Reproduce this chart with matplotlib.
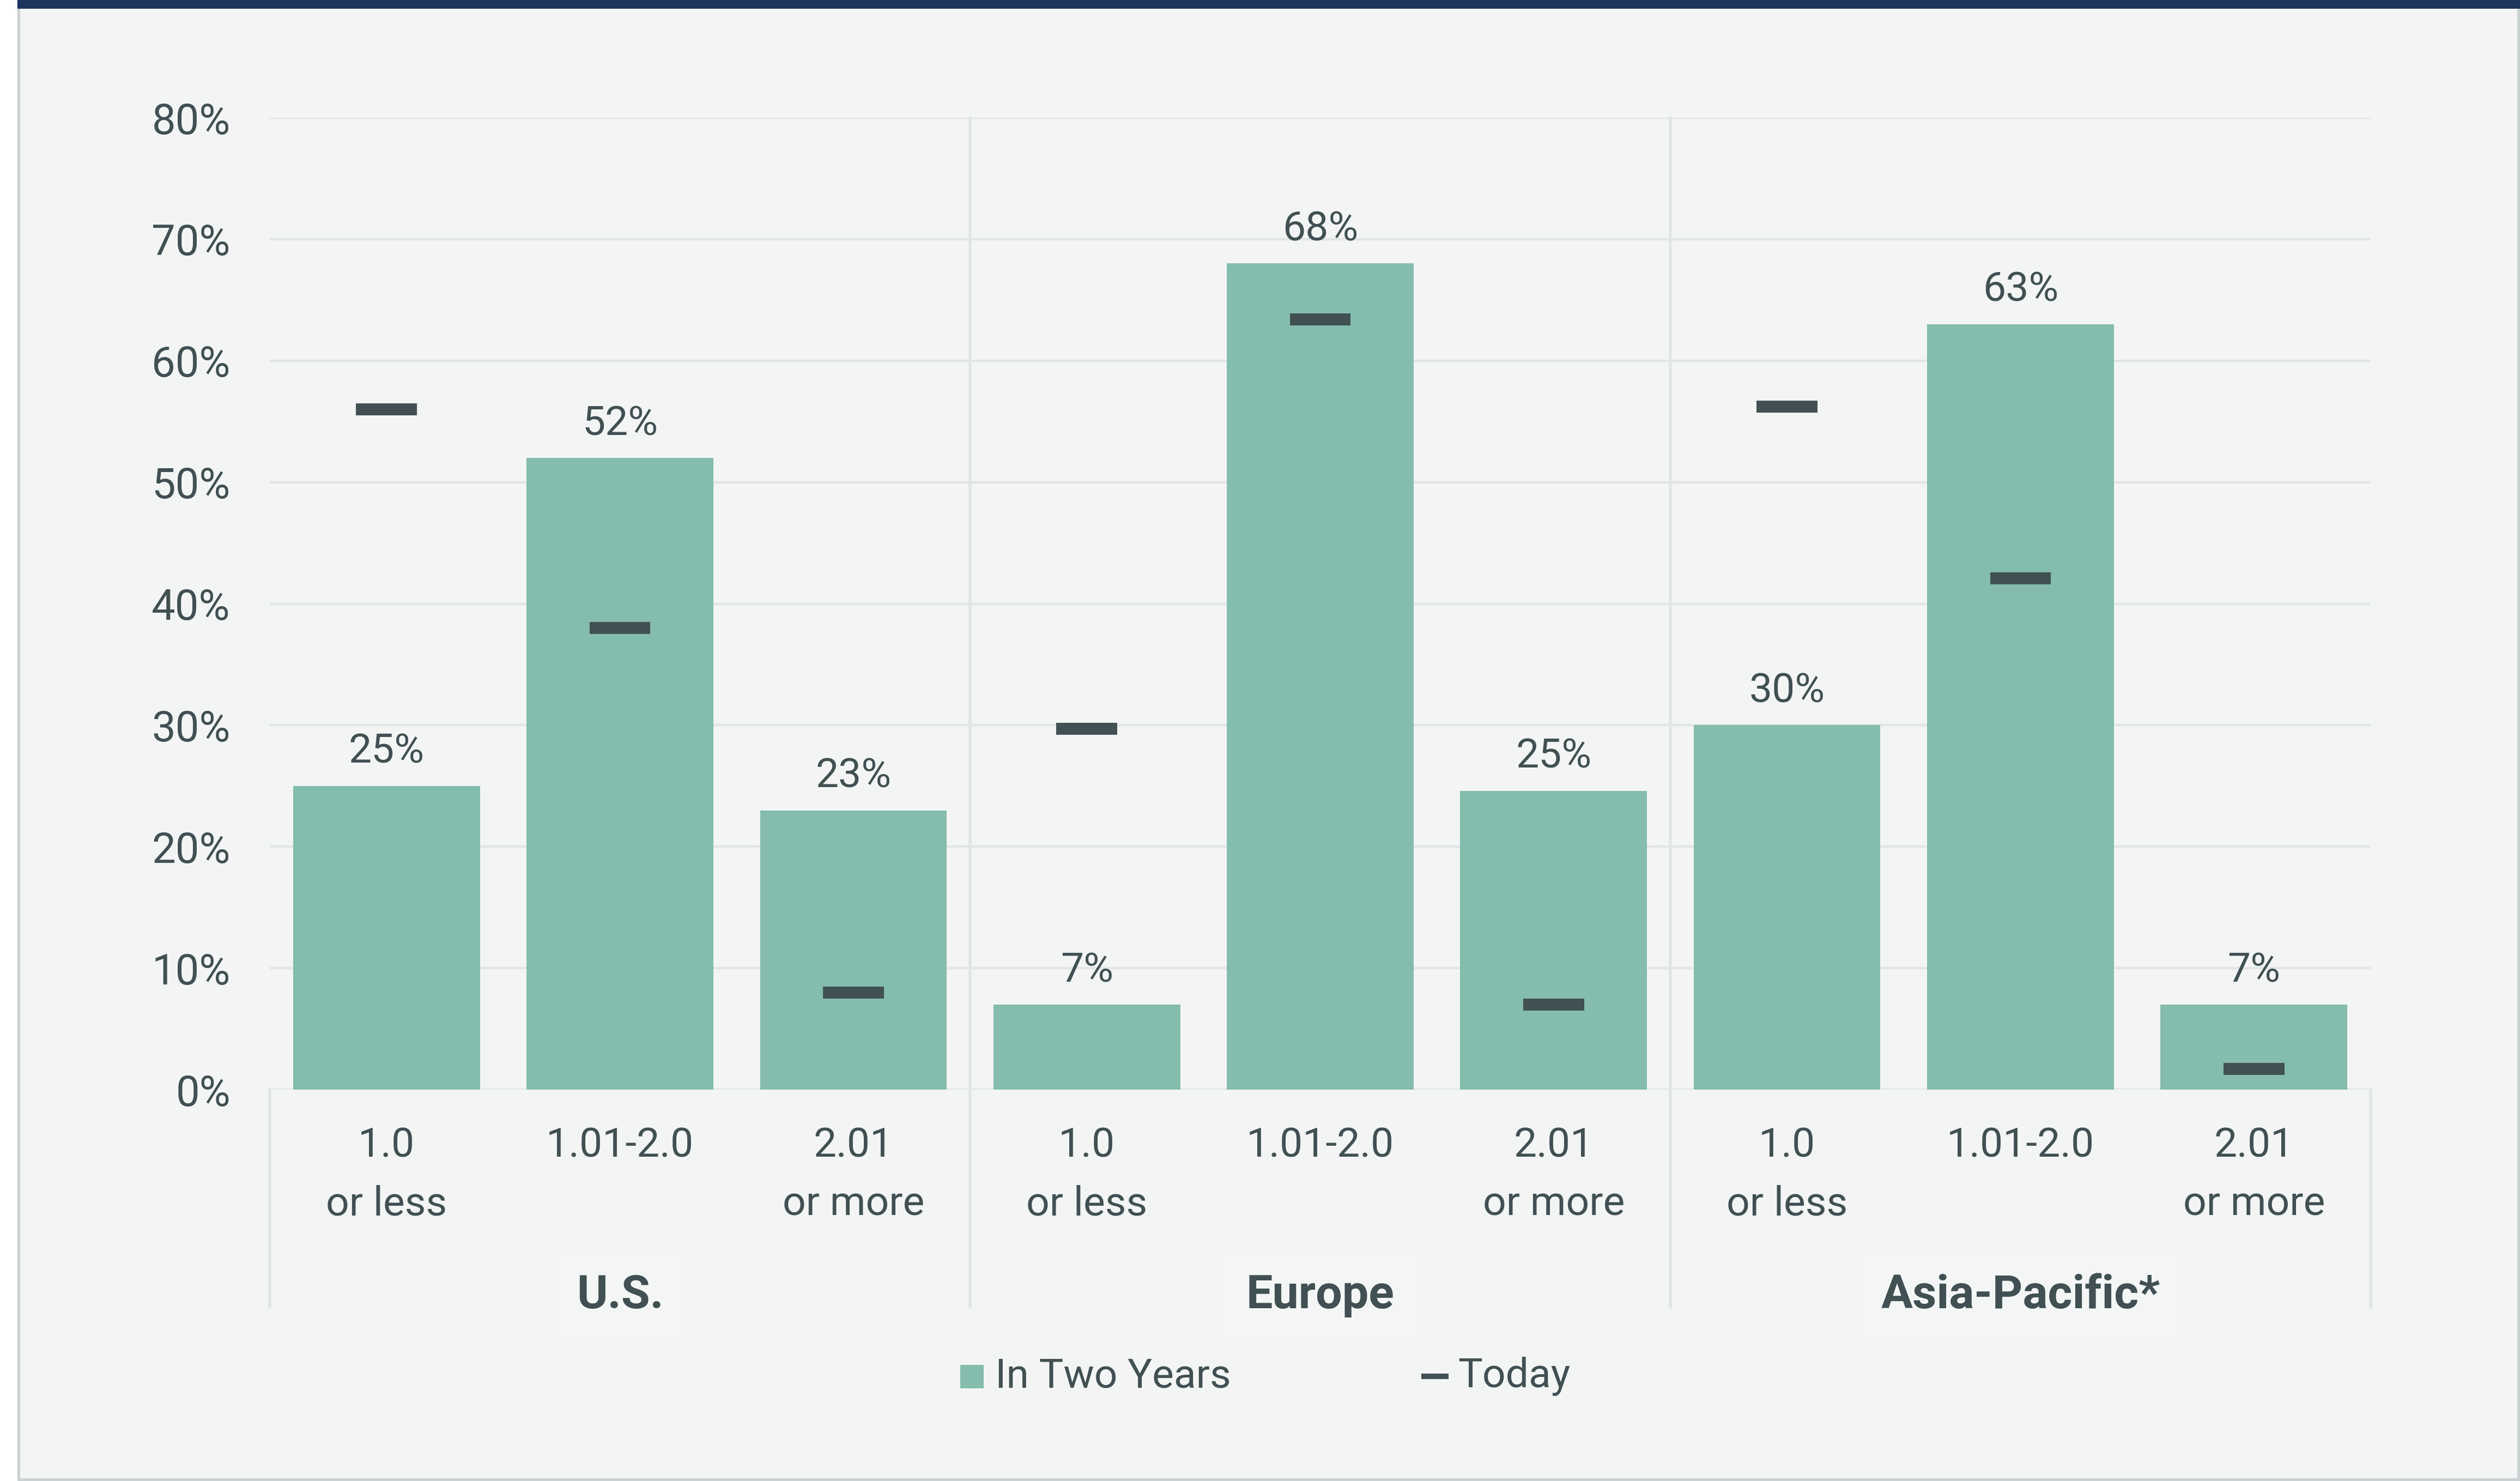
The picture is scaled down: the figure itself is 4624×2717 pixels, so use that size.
import matplotlib.pyplot as plt
from matplotlib.patches import Rectangle
from matplotlib.lines import Line2D
import matplotlib.transforms as mtransforms

# data
regions = ['U.S.', 'Europe', 'Asia-Pacific*']
buckets = ['1.0\nor less', '1.01-2.0', '2.01\nor more']
in_two_years = [25, 52, 23, 7, 68, 24.6, 30, 63, 7]
today = [56, 38, 8, 29.7, 63.4, 7, 56.2, 42.1, 1.7]
y_ticks = [0, 10, 20, 30, 40, 50, 60, 70, 80]

BG = '#f3f5f4'
BAR = '#84bcad'
DARK = '#415052'
GRID = '#e2e5e5'
NAVY = '#1f355e'
BORDER = '#c9d1d3'

plt.rcParams['font.family'] = ['Roboto', 'DejaVu Sans']

W, H = 4624, 2717
DPI = 200
fig = plt.figure(figsize=(W / DPI, H / DPI), dpi=DPI, facecolor='white')

# panel background, border and top rule
fig.patches.append(Rectangle((32 / W, 0), 1 - 32 / W, 1, transform=fig.transFigure,
                             facecolor=BORDER, edgecolor='none', zorder=-3))
fig.patches.append(Rectangle((37 / W, 5 / H), 1 - 42 / W, 1 - 5 / H, transform=fig.transFigure,
                             facecolor=BG, edgecolor='none', zorder=-2))
fig.patches.append(Rectangle((32 / W, 1 - 16 / H), 1 - 32 / W, 16 / H, transform=fig.transFigure,
                             facecolor=NAVY, edgecolor='none', zorder=-1))

ax = fig.add_axes([495 / W, 0.2642, (4350 - 495) / W, 0.6563])
ax.set_facecolor('none')
for s in ax.spines.values():
    s.set_visible(False)

x = list(range(len(in_two_years)))
ax.set_xlim(-0.5, len(x) - 0.5)
ax.set_ylim(0, 80)

# grid lines
for t in y_ticks:
    ax.axhline(t, color=GRID, lw=1.6, zorder=0)

bars = ax.bar(x, in_two_years, width=0.8, color=BAR, zorder=2)
ax.hlines(today, [i - 0.13 for i in x], [i + 0.13 for i in x], colors=DARK,
          lw=7.9, zorder=3, capstyle='butt')

for xi, v in zip(x, in_two_years):
    ax.annotate(f'{v:.0f}%', (xi, v), xytext=(0, 22.5), textcoords='offset points',
                ha='center', va='center', fontsize=27, color=DARK)

ax.set_yticks(y_ticks)
ax.set_yticklabels([f'{t}%' for t in y_ticks], fontsize=28, color=DARK)
ax.tick_params(axis='y', length=0, pad=26)
ax.set_xticks([])

# category axis with group separators
trans = mtransforms.blended_transform_factory(ax.transData, ax.transAxes)
low = -0.2235
for b in [2.5, 5.5]:
    ax.plot([b, b], [low, 1], transform=trans, color=GRID, lw=2, clip_on=False, zorder=1)
for b in [-0.5, len(x) - 0.5]:
    ax.plot([b, b], [low, 0], transform=trans, color=GRID, lw=2, clip_on=False, zorder=1)

for i in x:
    lines = buckets[i % 3].split('\n')
    ax.text(i, -0.0579, lines[0], transform=trans, ha='center', va='center',
            fontsize=27, color=DARK)
    if len(lines) > 1:
        ax.text(i, -0.1177, lines[1], transform=trans, ha='center', va='center',
                fontsize=27, color=DARK)

for g, name in enumerate(regions):
    cx = g * 3 + 1
    ax.text(cx, -0.2115, name, transform=trans, ha='center', va='center',
            fontsize=31, fontweight='bold', color=DARK,
            bbox=dict(boxstyle='square,pad=0.5', facecolor='#f4f6f6', edgecolor='none'))

# legend drawn by hand
fig.patches.append(Rectangle((1762 / W, 1 - 2547 / H), 43 / W, 43 / H,
                             transform=fig.transFigure, facecolor=BAR, edgecolor='none'))
fig.text(1826 / W, 1 - 2525 / H, 'In Two Years', fontsize=27, color=DARK, va='center')
fig.lines.append(Line2D([2608 / W, 2658 / W], [1 - 2525 / H, 1 - 2525 / H],
                        transform=fig.transFigure, color=DARK, lw=3.6,
                        solid_capstyle='butt'))
fig.text(2675 / W, 1 - 2525 / H, 'Today', fontsize=27, color=DARK, va='center')

fig.savefig('out.png', dpi=DPI, facecolor='white')
